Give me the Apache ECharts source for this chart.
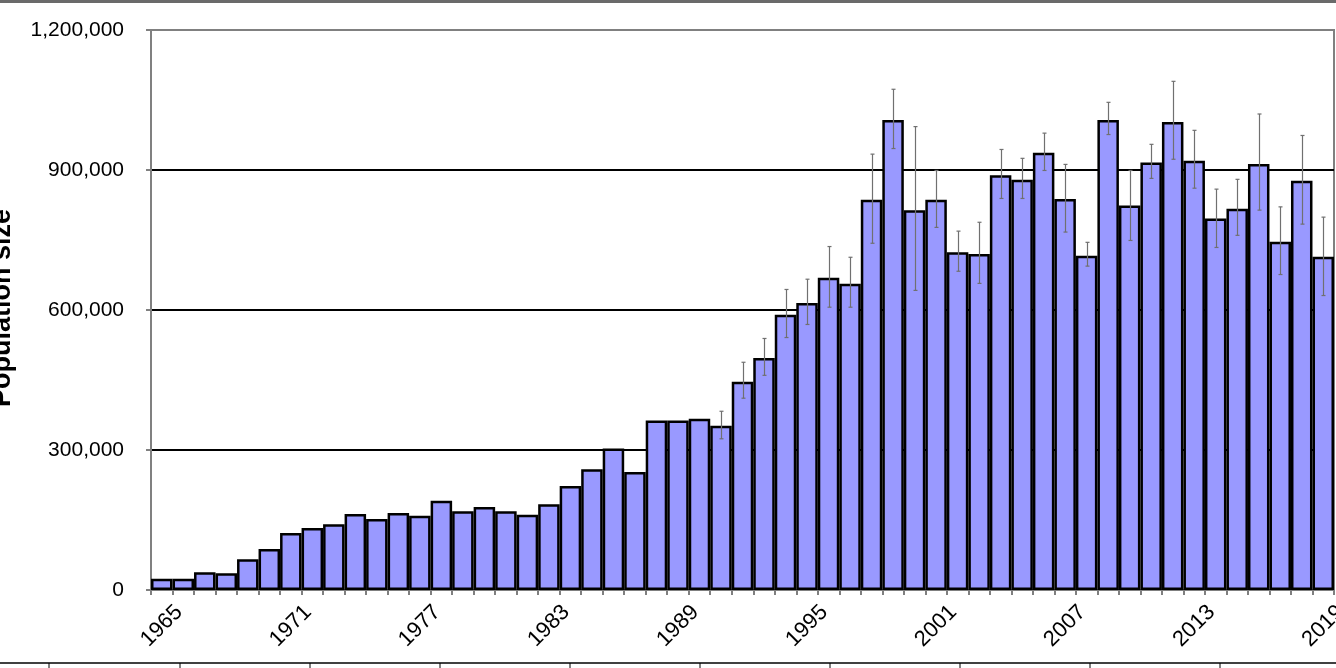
<!DOCTYPE html>
<html>
<head>
<meta charset="utf-8">
<script src="https://cdn.jsdelivr.net/npm/echarts@6/dist/echarts.min.js"></script>
<style>
html,body{margin:0;padding:0;background:#fff;}
#chart{width:1336px;height:668px;}
</style>
</head>
<body>
<div id="chart"></div>
<script>
const years = ['1965','1966','1967','1968','1969','1970','1971','1972','1973','1974','1975','1976','1977','1978','1979','1980','1981','1982','1983','1984','1985','1986','1987','1988','1989','1990','1991','1992','1993','1994','1995','1996','1997','1998','1999','2000','2001','2002','2003','2004','2005','2006','2007','2008','2009','2010','2011','2012','2013','2014','2015','2016','2017','2018','2019'];
const population = [24000,24000,38000,36000,66000,88000,122000,133000,141000,163000,152000,165000,159000,191000,169000,178000,169000,161000,184000,223000,259000,303000,253000,363000,363000,367000,352000,446000,497000,590000,615000,669000,656000,836000,1007000,814000,836000,724000,720000,889000,879000,937000,838000,716000,1007000,824000,916000,1003000,920000,796000,817000,913000,746000,877000,714000];
const errLow = [null,null,null,null,null,null,null,null,null,null,null,null,null,null,null,null,null,null,null,null,null,null,null,null,null,null,324000,411000,460000,541000,569000,606000,606000,743000,946000,642000,777000,683000,657000,839000,839000,899000,767000,694000,976000,749000,882000,923000,861000,734000,760000,814000,676000,784000,631000];
const errHigh = [null,null,null,null,null,null,null,null,null,null,null,null,null,null,null,null,null,null,null,null,null,null,null,null,null,null,383000,488000,539000,644000,666000,736000,713000,934000,1073000,993000,899000,769000,788000,944000,925000,979000,912000,745000,1045000,899000,955000,1090000,985000,859000,880000,1020000,821000,974000,799000];
const yTicks = [0, 300000, 600000, 900000, 1200000];
const yAxisTitle = 'Population size';

const errData = [];
years.forEach((y, i) => { if (errLow[i] != null) errData.push([y, errLow[i], errHigh[i]]); });

const chart = echarts.init(document.getElementById('chart'), null, {renderer: 'canvas'});
const FONT = 'Liberation Sans, Arial, sans-serif';
const bottomTicks = [49, 180, 310, 440, 570, 700, 830, 960, 1090, 1220];
const graphics = [
  {type: 'line', shape: {x1: 0, y1: 1.5, x2: 1336, y2: 1.5}, style: {stroke: '#6a6a6a', lineWidth: 3}, silent: true},
  {type: 'line', shape: {x1: 0, y1: 663, x2: 1336, y2: 663}, style: {stroke: '#000', lineWidth: 1.5}, silent: true},
  {type: 'text', x: 3, y: 308, rotation: Math.PI / 2,
   style: {text: yAxisTitle, font: 'bold 27px ' + FONT, fill: '#000', textAlign: 'center', textVerticalAlign: 'middle'}}
];
bottomTicks.forEach(x => graphics.push({type: 'line', shape: {x1: x, y1: 663, x2: x, y2: 668}, style: {stroke: '#000', lineWidth: 1}, silent: true}));

chart.setOption({
  animation: false,
  backgroundColor: '#fff',
  grid: {left: 151, right: 2, top: 30, height: 560, containLabel: false, outerBoundsMode: 'none',
         show: true, borderColor: '#808080', borderWidth: 2, backgroundColor: 'transparent'},
  xAxis: {
    type: 'category',
    data: years,
    boundaryGap: true,
    axisLine: {lineStyle: {color: '#808080', width: 2}},
    axisTick: {show: true, interval: 0, length: 5, lineStyle: {color: '#808080', width: 2}},
    axisLabel: {interval: 5, rotate: 45, align: 'center', verticalAlign: 'middle', margin: 36,
                fontSize: 22, fontFamily: FONT, color: '#000', hideOverlap: false},
    splitLine: {show: false}
  },
  yAxis: {
    type: 'value',
    min: yTicks[0], max: yTicks[yTicks.length - 1], interval: yTicks[1] - yTicks[0],
    axisLine: {show: true, lineStyle: {color: '#808080', width: 2}},
    axisTick: {show: true, length: 5, lineStyle: {color: '#808080', width: 2}},
    axisLabel: {margin: 27, fontSize: 21, fontFamily: FONT, color: '#000',
                formatter: v => v.toLocaleString('en-US')},
    splitLine: {show: true, lineStyle: {color: ['#808080', '#000', '#000', '#000', '#808080'], width: 2}}
  },
  graphic: graphics,
  series: [
    {
      type: 'bar',
      data: population,
      barWidth: 21.5,
      itemStyle: {color: '#9999FF', borderColor: '#000', borderWidth: 2.5},
      z: 2
    },
    {
      type: 'custom',
      data: errData,
      encode: {x: 0, y: [1, 2]},
      z: 3,
      renderItem: function (params, api) {
        const x = api.value(0);
        const lo = api.coord([x, api.value(1)]);
        const hi = api.coord([x, api.value(2)]);
        const cx = Math.round(lo[0]) + 0.5;
        const cap = 2;
        const st = {stroke: '#707070', lineWidth: 1.2};
        return {
          type: 'group',
          children: [
            {type: 'line', shape: {x1: cx, y1: hi[1], x2: cx, y2: lo[1]}, style: st},
            {type: 'line', shape: {x1: cx - cap, y1: hi[1], x2: cx + cap, y2: hi[1]}, style: st},
            {type: 'line', shape: {x1: cx - cap, y1: lo[1], x2: cx + cap, y2: lo[1]}, style: st}
          ]
        };
      }
    }
  ]
});
</script>
</body>
</html>
